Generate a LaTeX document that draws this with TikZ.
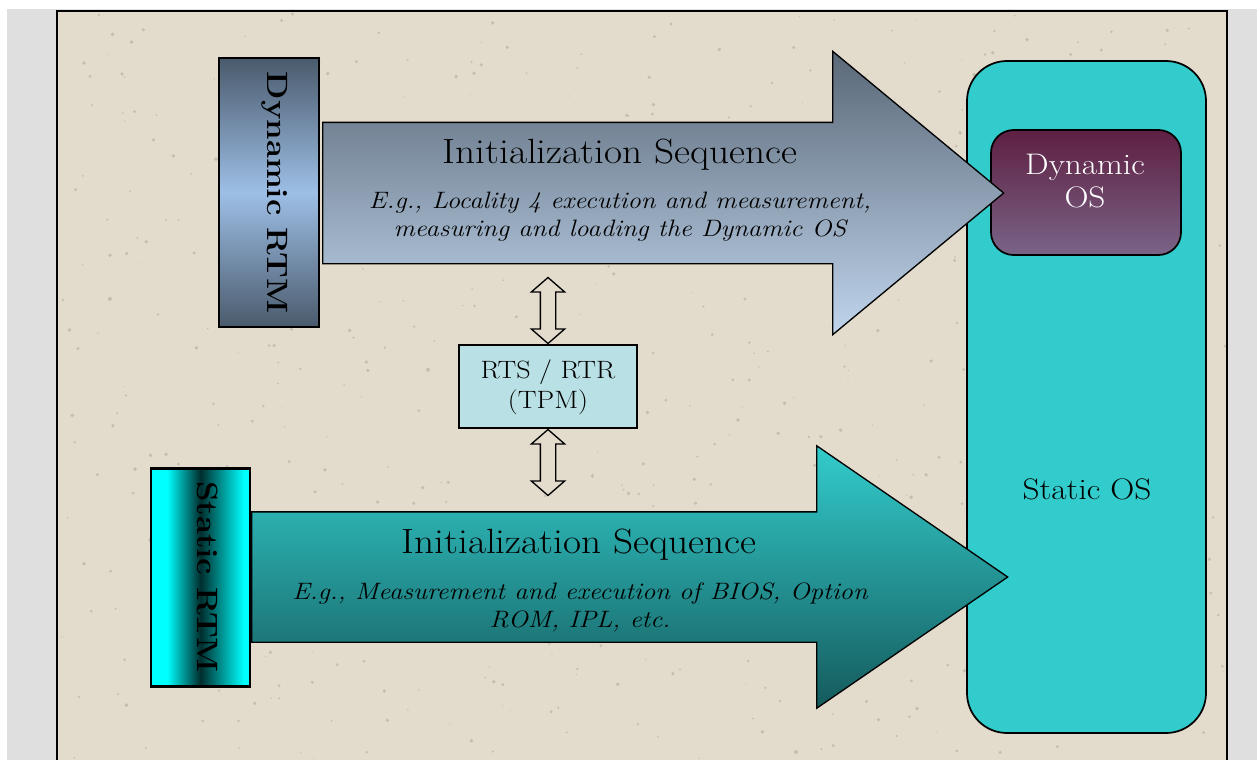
\documentclass[tikz,border=0pt]{standalone}
\usepackage{fontspec}
\setmainfont{Latin Modern Roman}[FakeStretch=1.12]
\usetikzlibrary{shapes.arrows}
\definecolor{pagegray}{HTML}{DFDFDF}
\definecolor{paper}{HTML}{E3DCCD}
\definecolor{speck}{HTML}{8F8878}
\definecolor{osteal}{HTML}{33CCCC}
\definecolor{tpmblue}{HTML}{B9E0E4}
\definecolor{rtmdark}{HTML}{4A5A6C}
\definecolor{rtmlight}{HTML}{9DBFE6}
\definecolor{rtmcore}{HTML}{002D2D}
\definecolor{dynostop}{HTML}{5E1F42}
\definecolor{dynosbot}{HTML}{796487}
\definecolor{dynarrtop}{HTML}{5A6877}
\definecolor{dynarrbot}{HTML}{C0D5ED}
\definecolor{starrtop}{HTML}{33CCCC}
\definecolor{starrmid}{HTML}{249095}
\definecolor{starrbot}{HTML}{155A5C}
\pgfdeclareverticalshading{dynrtmshade}{100bp}{color(0bp)=(rtmdark);color(25bp)=(rtmdark);
  color(50bp)=(rtmlight);color(75bp)=(rtmdark);color(100bp)=(rtmdark)}
\pgfdeclarehorizontalshading{staticrtmshade}{100bp}{color(0bp)=(cyan);color(33bp)=(cyan);
  color(50bp)=(rtmcore);color(72bp)=(cyan);color(100bp)=(cyan)}
\tikzset{
  BigArrow/.style = { single arrow, draw=black, line width=1pt, inner xsep=0pt,
                      single arrow head indent=0pt, anchor=tail },
  DoubleArrow/.style = { double arrow, draw=black, line width=1pt, fill=paper,
                         inner sep=7*.75pt, minimum height=66*.75pt,
                         double arrow head extend=9*.75pt, double arrow tip angle=98,
                         double arrow head indent=0pt, shape border rotate=90 },
  RtmBox/.style = { rectangle, draw=black, line width=2pt, inner sep=0pt },
  RtmText/.style = { rotate=-90, font=\fontsize{22}{22}\selectfont\bfseries },
  SeqTitle/.style = { font=\fontsize{26.3}{30}\selectfont },
  SeqText/.style = { align=center, font=\fontsize{17.8}{21}\selectfont\itshape },
  OsText/.style = { align=center, font=\fontsize{22.3}{24.5}\selectfont } }
\begin{document}
\begin{tikzpicture}[x=.75pt,y=-.75pt]
  \useasboundingbox (0,0) rectangle (1257,760);
  \fill[white] (0,0) rectangle (1257,760);
  \fill[pagegray] (7,9) rectangle (1257,760);
  \fill[paper] (57,11) rectangle (1227,760);
  % speckles of the paper
  \pgfmathsetseed{41}
  \foreach \i in {1,...,600} {
    \pgfmathsetmacro{\sx}{60+rnd*1165}
    \pgfmathsetmacro{\sy}{14+rnd*745}
    \pgfmathsetmacro{\sr}{.5+rnd*1.5}
    \fill[speck,opacity=.35] (\sx,\sy) circle ({\sr*.75pt});
  }
  \draw[line width=1.5pt] (57,770) -- (57,11) -- (1227,11) -- (1227,770);

  \node[rectangle, draw=black, line width=1.3pt, rounded corners=30pt, fill=osteal, inner sep=0pt,
        minimum width=239*.75pt, minimum height=672*.75pt](StaticOS) at (1086.5,397) {};
  \node[OsText](StaticLabel) at (1087,489) {Static OS};
  \node[rectangle, draw=black, line width=1.3pt, rounded corners=17pt, inner sep=0pt,
        top color=dynostop, bottom color=dynosbot,
        minimum width=190*.75pt, minimum height=125*.75pt](DynamicOS) at (1086,192.5) {};
  \node[OsText, text=white](DynamicLabel) at (1085,181) {Dynamic\\OS};

  \node[BigArrow, top color=dynarrtop, bottom color=dynarrbot, inner ysep=70*.75pt,
        minimum height=681*.75pt, minimum width=282*.75pt,
        single arrow head extend=71*.75pt, single arrow tip angle=79.3](DynArrow) at (322,193) {};
  \node[SeqTitle](DynTitle) at (620,155) {Initialization Sequence};
  \node[SeqText](DynText) at (620,217) {E.g., Locality 4 execution and measurement,\\measuring and loading the Dynamic OS};

  \node[BigArrow, top color=starrtop, middle color=starrmid, bottom color=starrbot, inner ysep=64.5*.75pt,
        minimum height=756*.75pt, minimum width=261*.75pt,
        single arrow head extend=66*.75pt, single arrow tip angle=69](StaticArrow) at (251,577) {};
  \node[SeqTitle](StaticTitle) at (579,545) {Initialization Sequence};
  \node[SeqText](StaticText) at (580,607) {E.g., Measurement and execution of BIOS, Option\\ROM, IPL, etc.};

  \node[RtmBox, shading=dynrtmshade, minimum width=100*.75pt, minimum height=269*.75pt](DynRTM) at (269,192.5) {};
  \node[RtmText](DynRTMLabel) at (275,192.5) {Dynamic RTM};
  \node[RtmBox, shading=staticrtmshade, minimum width=99*.75pt, minimum height=218*.75pt](StaticRTM) at (200.5,577.5) {};
  \node[RtmText](StaticRTMLabel) at (208,577) {Static RTM};

  \node[rectangle, draw=black, line width=1.3pt, fill=tpmblue, inner sep=0pt,
        minimum width=178*.75pt, minimum height=83*.75pt](TPM) at (548,386.5) {};
  \node[OsText, font=\fontsize{18.8}{22.5}\selectfont](TPMLabel) at (548,387) {RTS / RTR\\(TPM)};
  \node[DoubleArrow](TopLink) at (548,310.5) {};
  \node[DoubleArrow](LowLink) at (548,462.5) {};
\end{tikzpicture}
\end{document}
